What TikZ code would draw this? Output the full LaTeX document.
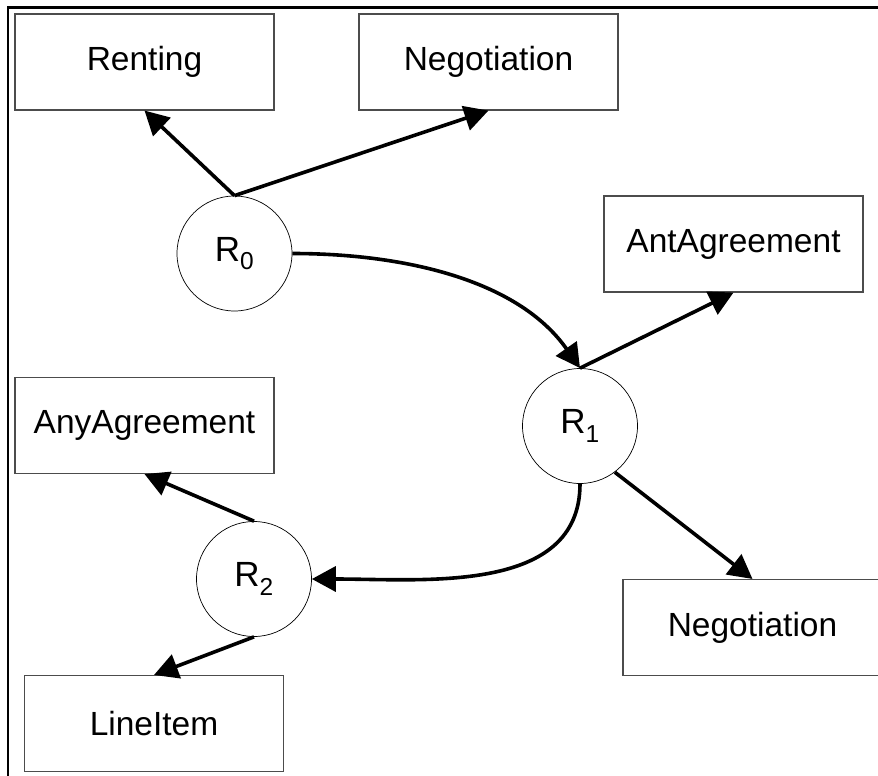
\documentclass[tikz,border=0pt]{standalone}
\usepackage{fontspec}
\setmainfont{Liberation Sans}
\usetikzlibrary{arrows.meta}

\begin{document}
\begin{tikzpicture}[x=1pt,y=-1pt,
  classbox/.style={draw=black!70, line width=1.1pt, fill=white,
    minimum width=259pt, minimum height=96pt, inner sep=0pt,
    font=\fontsize{33.5}{40}\selectfont},
  relnode/.style={draw=black, line width=0.7pt, circle, fill=white,
    minimum size=115pt, inner sep=0pt,
    font=\fontsize{35}{42}\selectfont},
  link/.style={line width=3.6pt, -{Triangle[length=24pt,width=25pt]}},
  frame/.style={line width=2.6pt}
]
\useasboundingbox (0,0) rectangle (878,776);
\clip (0,0) rectangle (878,776);

% outer frame: top and left edges only
\coordinate (ftr) at (880,7.5);
\coordinate (ftl) at (8,7.5);
\coordinate (fbl) at (8,780);
\draw[frame] (ftr) -- (ftl) -- (fbl);

% concept boxes
\node[classbox] (renting) at (144.5,62) {Renting};
\node[classbox] (nego1)   at (488.5,62) {Negotiation};
\node[classbox] (ant)     at (733.5,244) {AntAgreement};
\node[classbox] (any)     at (144.5,425.5) {AnyAgreement};
\node[classbox] (nego2)   at (752.5,627.5) {Negotiation};
\node[classbox] (item)    at (154,723.5) {LineItem};

% relation nodes
\node[relnode] (r0) at (234.5,253.5) {R\textsubscript{0}};
\node[relnode] (r1) at (580,426) {R\textsubscript{1}};
\node[relnode] (r2) at (254,579) {R\textsubscript{2}};

% links
\draw[link] (r0.north) -- (renting.south);
\draw[link] (r0.north) -- (nego1.south);
\draw[link] (r0.east) to[out=0,in=125,looseness=0.9] (r1.north);
\draw[link] (r1.north) -- (ant.south);
\draw[link] (r1.-53) -- (nego2.north);
\draw[link] (r1.south) to[out=-90,in=0] (r2.east);
\draw[link] (r2.north) -- (any.south);
\draw[link] (r2.south) -- (item.north);
\end{tikzpicture}
\end{document}
